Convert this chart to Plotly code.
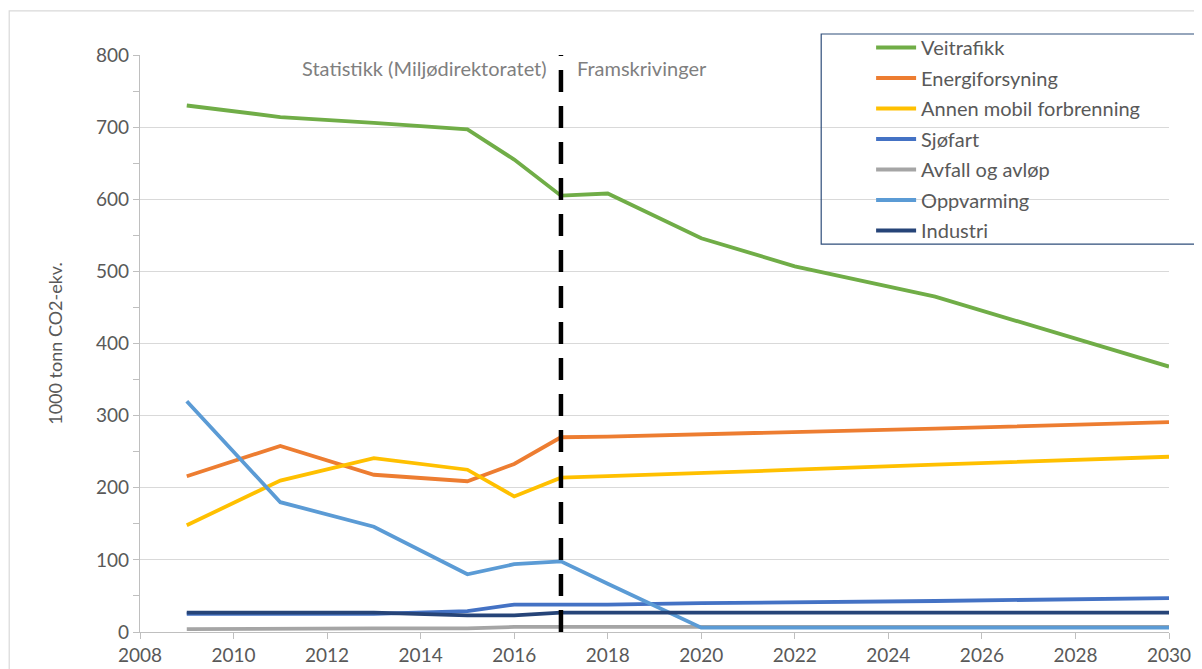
import plotly.graph_objects as go

years = [2009, 2011, 2013, 2015, 2016, 2017, 2018, 2020, 2022, 2025, 2030]

veitrafikk = [730, 714, 706, 697, 655, 605, 608, 546, 507, 465, 368]
energiforsyning = [216, 258, 218, 209, 233, 270, 271, 274, 277, 282, 291]
annen_mobil = [148, 210, 241, 225, 188, 214, 216, 220, 225, 232, 243]
sjofart = [25, 25, 25, 29, 38, 38, 38, 40, 41, 43, 47]
avfall = [4, 5, 5, 5, 7, 7, 7, 7, 7, 7, 7]
oppvarming = [320, 180, 146, 80, 94, 98, 67, 6, 6, 6, 6]
industri = [27, 27, 27, 23, 23, 27, 27, 27, 27, 27, 27]

series_names = ["Veitrafikk", "Energiforsyning", "Annen mobil forbrenning", "Sjøfart",
                "Avfall og avløp", "Oppvarming", "Industri"]
series_values = [veitrafikk, energiforsyning, annen_mobil, sjofart, avfall, oppvarming, industri]
colors = ["#70AD47", "#ED7D31", "#FFC000", "#4472C4", "#A5A5A5", "#5B9BD5", "#264478"]

split_year = 2017
y_ticks = [0, 100, 200, 300, 400, 500, 600, 700, 800]
x_ticks = list(range(2008, 2031, 2))

FONT = "Lato"
TXT = "#595959"

fig = go.Figure()
for i, (name, vals, col) in enumerate(zip(series_names, series_values, colors)):
    fig.add_trace(go.Scatter(
        x=years, y=vals, mode="lines", name=name,
        line=dict(color=col, width=3.8),
        legendgroup=name,
    ))

fig.add_shape(type="line", xref="x", yref="y", x0=split_year, x1=split_year, y0=0, y1=800,
              line=dict(color="black", width=4.5, dash="22px,14px"))

fig.add_annotation(x=split_year, y=782, xref="x", yref="y", text="Statistikk (Miljødirektoratet)",
                   showarrow=False, xanchor="right", yanchor="middle", xshift=-12,
                   font=dict(family=FONT, size=20, color="#7F7F7F"))
fig.add_annotation(x=split_year, y=782, xref="x", yref="y", text="Framskrivinger",
                   showarrow=False, xanchor="left", yanchor="middle", xshift=14,
                   font=dict(family=FONT, size=20, color="#7F7F7F"))

# legend border box
fig.add_shape(type="rect", xref="paper", yref="paper", x0=0.662, x1=1.0301, y0=0.6724, y1=1.0364,
              line=dict(color="#2F4E7B", width=1.2), fillcolor="rgba(0,0,0,0)")
# outer chart border
fig.add_shape(type="rect", xref="paper", yref="paper", x0=-0.1271, x1=1.2, y0=-0.3, y1=1.0763,
              line=dict(color="#D9D9D9", width=1.2), fillcolor="rgba(0,0,0,0)")

fig.update_layout(
    width=1194, height=661,
    margin=dict(l=131.5, r=33, t=47, b=37, autoexpand=False),
    paper_bgcolor="white", plot_bgcolor="white",
    font=dict(family=FONT, size=20, color=TXT),
    showlegend=True,
    legend=dict(x=0.7105, y=1.0468, xanchor="left", yanchor="top",
                bgcolor="rgba(0,0,0,0)", borderwidth=0,
                font=dict(family=FONT, size=20, color=TXT),
                tracegroupgap=1.5, itemwidth=40, traceorder="grouped"),
    xaxis=dict(range=[2008, 2030], tickvals=x_ticks, showgrid=False,
               showline=True, linecolor="#BFBFBF", linewidth=1.2,
               ticks="outside", ticklen=6, tickcolor="#BFBFBF",
               tickfont=dict(family=FONT, size=19, color=TXT), zeroline=False),
    yaxis=dict(range=[0, 800], tickvals=y_ticks, showgrid=True, gridcolor="#D9D9D9", gridwidth=1.2,
               showline=True, linecolor="#BFBFBF", linewidth=1.2,
               ticks="outside", ticklen=6, tickcolor="#BFBFBF",
               minor=dict(dtick=50, ticks="outside", ticklen=6, tickcolor="#BFBFBF", showgrid=False),
               tickfont=dict(family=FONT, size=19, color=TXT), zeroline=False,
               title=dict(text="1000 tonn CO2-ekv.", font=dict(family=FONT, size=18, color=TXT), standoff=28)),
)

fig.write_html("out.html")
